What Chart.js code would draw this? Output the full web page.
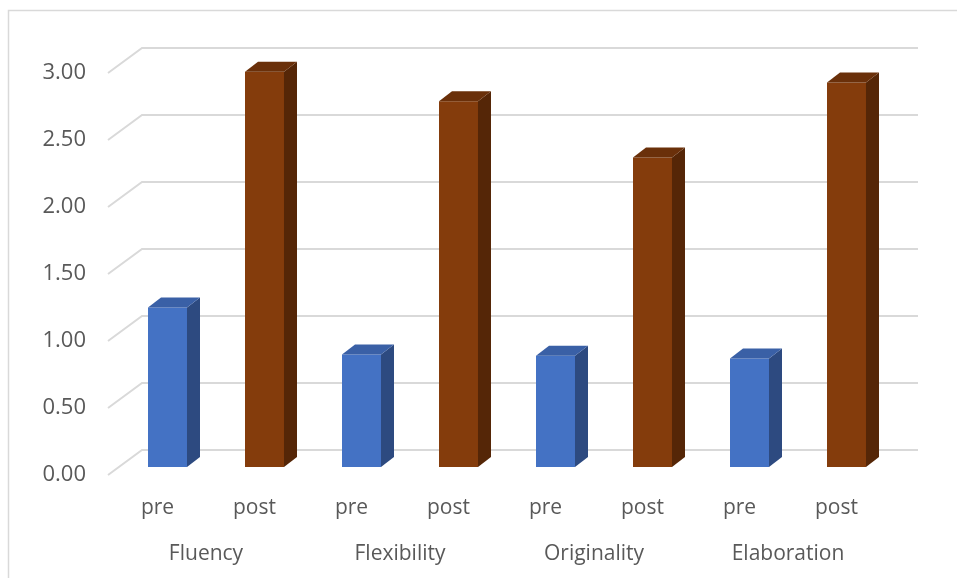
<!DOCTYPE html>
<html>
<head>
<meta charset="utf-8">
<script src="https://cdn.jsdelivr.net/npm/chart.js@4"></script>
<style>
  html, body { margin: 0; padding: 0; background: #ffffff; }
  #wrap { width: 957px; height: 578px; }
</style>
</head>
<body>
<div id="wrap"><canvas id="chart" width="957" height="578"></canvas></div>
<script>
// Mean creativity scores, before and after the programme
const groups = ['Fluency', 'Flexibility', 'Originality', 'Elaboration'];
const phases = ['pre', 'post'];
const preScores = [1.19, 0.84, 0.83, 0.81];
const postScores = [2.95, 2.73, 2.31, 2.87];
const yMin = 0;
const yMax = 3;
const yStep = 0.5;

// Interleave pre/post per skill for the inner category axis
const barLabels = [];
const barValues = [];
const barKinds = [];
groups.forEach((g, i) => {
  barLabels.push(phases[0]); barValues.push(preScores[i]); barKinds.push(0);
  barLabels.push(phases[1]); barValues.push(postScores[i]); barKinds.push(1);
});

// Face colours: front, top, side
const palette = [
  { front: '#4472C4', top: '#3A60A6', side: '#2D4A80' },
  { front: '#843C0C', top: '#6A300A', side: '#552607' }
];

const TEXT = '#595959';
const GRID = '#D9D9D9';
const FONT = '"Open Sans", "Liberation Sans", sans-serif';

// 3D depth offsets
const BAR_DX = 13, BAR_DY = -10;       // bar depth
const WALL_FRONT_DX = -11, WALL_FRONT_DY = 8;   // floor front edge relative to bar front
const WALL_BACK_DX = 23, WALL_BACK_DY = -17;    // back wall relative to bar front

const depthPlugin = {
  id: 'depth3d',
  beforeDraw(chart) {
    const ctx = chart.ctx;
    ctx.save();
    ctx.strokeStyle = GRID;
    ctx.lineWidth = 1.5;
    ctx.strokeRect(8.5, 10.5, 2000, 2000);
    ctx.restore();
  },
  beforeDatasetsDraw(chart) {
    const ctx = chart.ctx;
    const y = chart.scales.y;
    const area = chart.chartArea;
    ctx.save();
    ctx.strokeStyle = GRID;
    ctx.lineWidth = 2;
    ctx.lineCap = 'butt';
    y.ticks.forEach(t => {
      const py = y.getPixelForValue(t.value);
      ctx.beginPath();
      ctx.moveTo(area.left + WALL_FRONT_DX, py + WALL_FRONT_DY);
      ctx.lineTo(area.left + WALL_BACK_DX, py + WALL_BACK_DY);
      ctx.lineTo(area.right + WALL_BACK_DX, py + WALL_BACK_DY);
      ctx.stroke();
    });
    ctx.restore();
  },
  afterDatasetsDraw(chart) {
    const ctx = chart.ctx;
    const meta = chart.getDatasetMeta(0);
    ctx.save();
    meta.data.forEach((bar, i) => {
      const p = bar.getProps(['x', 'y', 'base', 'width'], true);
      const l = p.x - p.width / 2, r = p.x + p.width / 2;
      const top = p.y, bot = p.base;
      const c = palette[barKinds[i]];
      // side face
      ctx.fillStyle = c.side;
      ctx.beginPath();
      ctx.moveTo(r, top);
      ctx.lineTo(r + BAR_DX, top + BAR_DY);
      ctx.lineTo(r + BAR_DX, bot + BAR_DY);
      ctx.lineTo(r, bot);
      ctx.closePath();
      ctx.fill();
      // top face
      ctx.fillStyle = c.top;
      ctx.beginPath();
      ctx.moveTo(l, top);
      ctx.lineTo(l + BAR_DX, top + BAR_DY);
      ctx.lineTo(r + BAR_DX, top + BAR_DY);
      ctx.lineTo(r, top);
      ctx.closePath();
      ctx.fill();
    });
    ctx.restore();
  }
};

new Chart(document.getElementById('chart'), {
  type: 'bar',
  data: {
    labels: barLabels,
    datasets: [{
      data: barValues,
      backgroundColor: barKinds.map(k => palette[k].front),
      borderWidth: 0,
      barPercentage: 0.402,
      categoryPercentage: 1.0,
      xAxisID: 'x',
      yAxisID: 'y'
    }]
  },
  options: {
    responsive: false,
    animation: false,
    devicePixelRatio: 1,
    layout: { padding: { left: 0, top: 65, right: 62, bottom: 10 } },
    plugins: { legend: { display: false }, tooltip: { enabled: false } },
    scales: {
      y: {
        min: yMin,
        max: yMax,
        grid: { display: false, drawTicks: false },
        border: { display: false },
        ticks: {
          stepSize: yStep,
          padding: 33,
          labelOffset: 8,
          color: TEXT,
          font: { family: FONT, size: 22 },
          callback: v => Number(v).toFixed(2)
        },
        afterFit(s) { s.width = 119; }
      },
      x: {
        type: 'category',
        position: 'bottom',
        weight: 0,
        offset: true,
        grid: { display: false, drawTicks: false },
        border: { display: false },
        ticks: {
          padding: 28,
          labelOffset: -10,
          maxRotation: 0,
          autoSkip: false,
          color: TEXT,
          font: { family: FONT, size: 21 }
        },
        afterFit(s) { s.height = 54; }
      },
      x2: {
        type: 'category',
        labels: groups,
        position: 'bottom',
        weight: 1,
        offset: true,
        grid: { display: false, drawTicks: false },
        border: { display: false },
        ticks: {
          padding: 20,
          labelOffset: -10,
          maxRotation: 0,
          autoSkip: false,
          color: TEXT,
          font: { family: FONT, size: 21 }
        },
        afterFit(s) { s.height = 47; }
      }
    }
  },
  plugins: [depthPlugin]
});
</script>
</body>
</html>
